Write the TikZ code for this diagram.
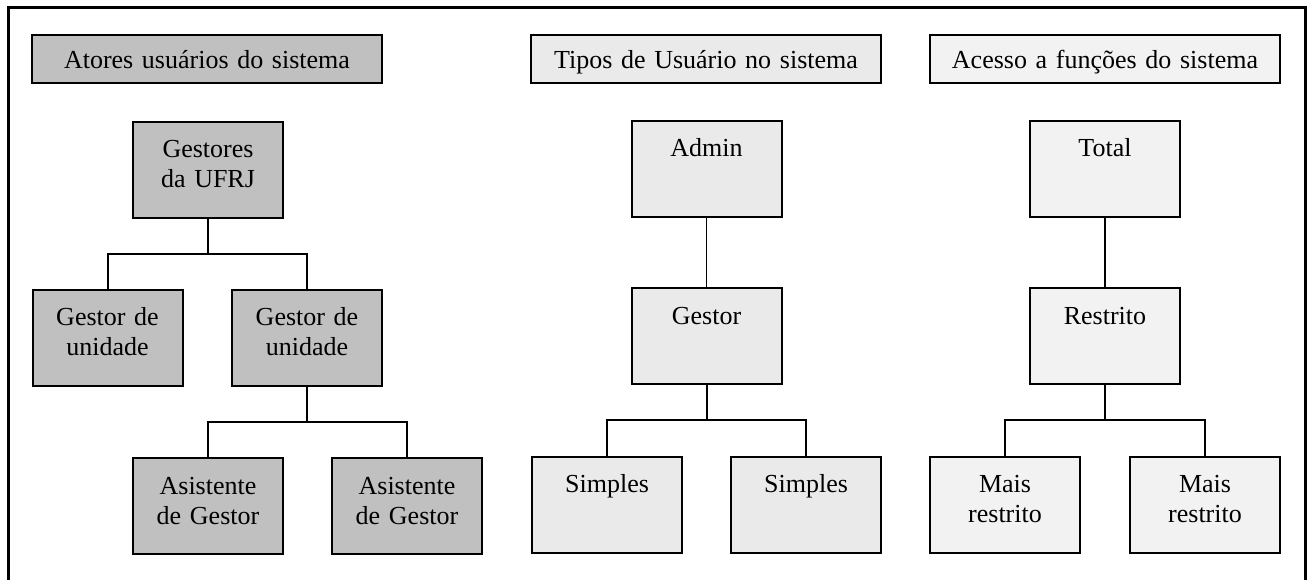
\documentclass[tikz,border=0pt]{standalone}
\usepackage{fontspec}
\setmainfont{Liberation Serif}
\usetikzlibrary{calc}
\definecolor{actorgray}{HTML}{C0C0C0}
\definecolor{typegray}{HTML}{EAEAEA}
\definecolor{accessgray}{HTML}{F2F2F2}
\begin{document}
\begin{tikzpicture}[x=1pt,y=-1pt,
  every node/.style={font=\fontsize{26}{30}\selectfont},
  header/.style={draw=black, line width=2pt, inner sep=0pt,
    text width=350pt, align=center, text height=34pt, text depth=14pt},
  unitbox/.style={draw=black, line width=2pt, inner sep=0pt,
    text width=150pt, align=center, text height=36pt, text depth=60pt},
  branch/.style={to path={(\tikztostart) |- ($(\tikztostart)!.5!(\tikztotarget)$) -| (\tikztotarget)}},
  link/.style={line width=2pt}]
  \useasboundingbox (0,0) rectangle (1310,580);
  % outer frame, open towards the bottom edge
  \draw[line width=3pt] (8,600) -- (8,8) -- (1305,8) -- (1305,600);

  % column headers
  \node[header, fill=actorgray]  (h1) at (207,59)  {Atores usuários do sistema};
  \node[header, fill=typegray]   (h2) at (706,59)  {Tipos de Usuário no sistema};
  \node[header, fill=accessgray] (h3) at (1105,59) {Acesso a funções do sistema};

  % actors
  \node[unitbox, fill=actorgray] (gest) at (208,170)   {Gestores\\da UFRJ};
  \node[unitbox, fill=actorgray] (gu1)  at (107.5,338) {Gestor de\\unidade};
  \node[unitbox, fill=actorgray] (gu2)  at (307,338)   {Gestor de\\unidade};
  \node[unitbox, fill=actorgray] (as1)  at (208,506)   {Asistente\\de Gestor};
  \node[unitbox, fill=actorgray] (as2)  at (407,506)   {Asistente\\de Gestor};

  % user types
  \node[unitbox, fill=typegray] (admin)  at (706.5,169) {Admin};
  \node[unitbox, fill=typegray] (gestor) at (706.5,336) {Gestor};
  \node[unitbox, fill=typegray] (simp1)  at (607,504.5) {Simples};
  \node[unitbox, fill=typegray] (simp2)  at (806,504.5) {Simples};

  % access levels
  \node[unitbox, fill=accessgray] (total) at (1105,169)   {Total};
  \node[unitbox, fill=accessgray] (restr) at (1105,336)   {Restrito};
  \node[unitbox, fill=accessgray] (mr1)   at (1005,504.5) {Mais\\restrito};
  \node[unitbox, fill=accessgray] (mr2)   at (1205,504.5) {Mais\\restrito};

  % hierarchy connectors
  \draw[link] (gest.south) to[branch] (gu1.north);
  \draw[link] (gest.south) to[branch] (gu2.north);
  \draw[link] (gu2.south)  to[branch] (as1.north);
  \draw[link] (gu2.south)  to[branch] (as2.north);

  \draw[link, line width=1.5pt] (admin.south) -- (gestor.north);
  \draw[link] (gestor.south) to[branch] (simp1.north);
  \draw[link] (gestor.south) to[branch] (simp2.north);

  \draw[link] (total.south) -- (restr.north);
  \draw[link] (restr.south) to[branch] (mr1.north);
  \draw[link] (restr.south) to[branch] (mr2.north);
\end{tikzpicture}
\end{document}
